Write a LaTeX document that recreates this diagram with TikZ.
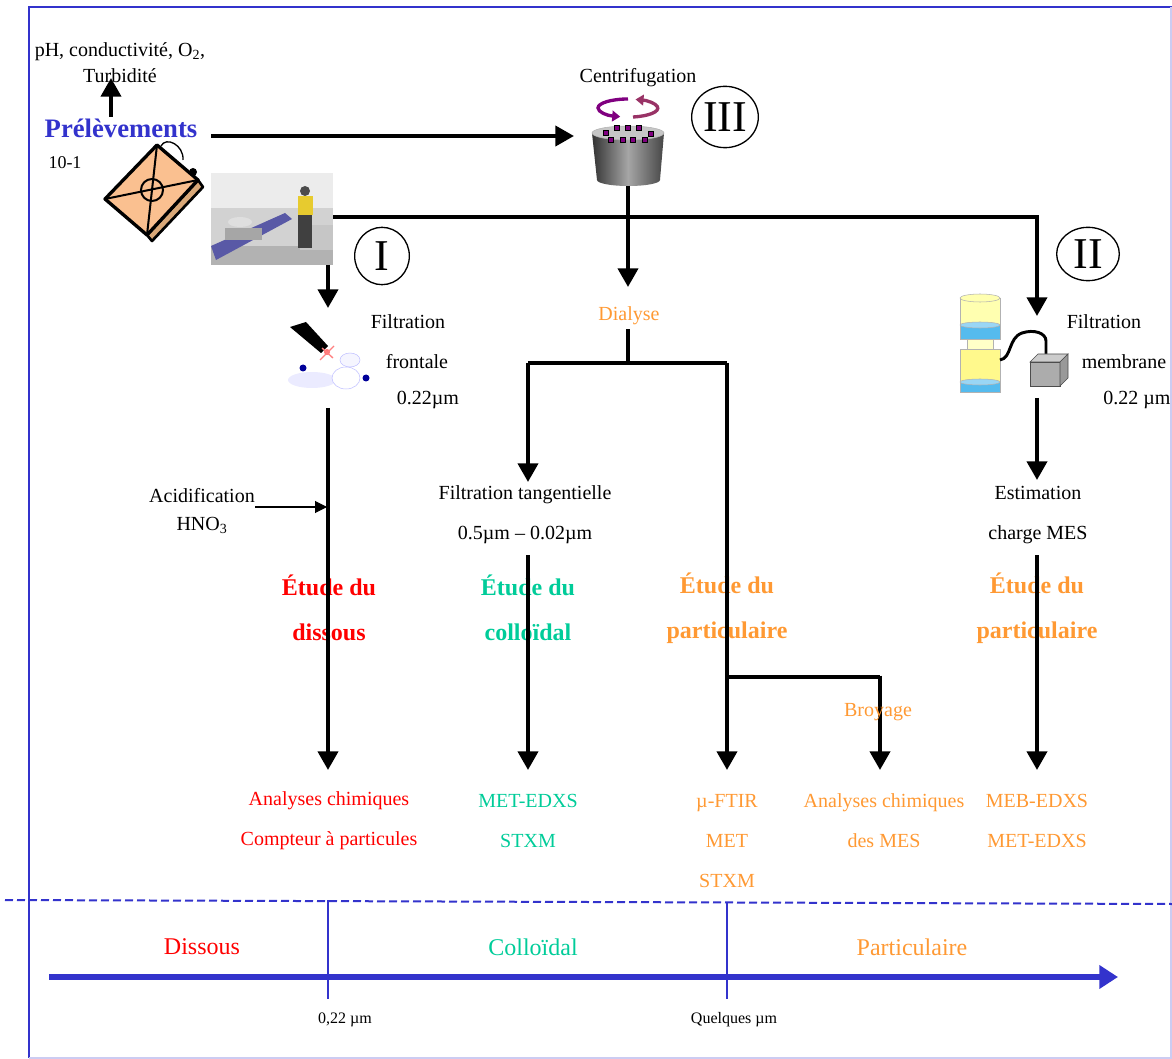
\documentclass[tikz,border=0pt]{standalone}
\usepackage{fontspec}
\setmainfont{Liberation Serif}
\usetikzlibrary{arrows.meta,positioning,shapes.geometric}

\definecolor{axisblue}{HTML}{3333CC}
\definecolor{dissred}{HTML}{FF0000}
\definecolor{collgreen}{HTML}{00CC99}
\definecolor{partorange}{HTML}{FF9933}
\definecolor{canpeach}{HTML}{FAC090}
\definecolor{canside}{HTML}{D9A878}
\definecolor{rotpurple}{HTML}{800080}
\definecolor{rotpink}{HTML}{993366}
\definecolor{paleyellow}{HTML}{FFFFB0}
\definecolor{filterblue}{HTML}{55BBEE}

\begin{document}
\begin{tikzpicture}[x=0.75pt,y=-0.75pt,>={Triangle[width=15pt,length=14pt]},
    flow/.style={->,line width=3pt},
    link/.style={line width=3pt},
    txt/.style={inner sep=0pt,font=\fontsize{15}{30}\selectfont,align=center},
    etude/.style={inner sep=0pt,font=\bfseries\fontsize{18}{34}\selectfont,align=center},
    roman node/.style={ellipse,draw,line width=1pt,inner sep=0pt,font=\fontsize{33}{33}\selectfont},
    scale node/.style={inner sep=0pt,font=\fontsize{18}{20}\selectfont},
    size node/.style={inner sep=0pt,font=\fontsize{12}{14}\selectfont}]
\useasboundingbox (0,0) rectangle (1172,1059);

% frame
\draw[axisblue,line width=1.5pt] (29,1058) -- (29,7) -- (1172,7);
\draw[axisblue!25,line width=1.5pt] (1171,7) -- (1171,1058) -- (29,1058);

% sampling
\node[txt,font=\fontsize{15}{19.5}\selectfont] (param) at (120,63) {pH, conductivité, O\textsubscript{2},\\Turbidité};
\node[inner sep=0pt,font=\bfseries\fontsize{20}{22}\selectfont,text=axisblue] (prel) at (121,128) {Prélèvements};
\node[inner sep=0pt,font=\fontsize{13.5}{15}\selectfont] (vol) at (65,163) {10-1};
\coordinate (phup) at (111,117);
\draw[flow] (phup) -- (111,78);

% jerrycan
\filldraw[fill=canside,line width=2pt,line join=round] (198,180) -- (203,187) -- (152,241) -- (147,235) -- cycle;
\filldraw[fill=canpeach,line width=2.5pt,line join=round] (157,145) -- (198,180) -- (147,235) -- (105,199) -- cycle;
\draw[line width=1.5pt] (157,145) -- (147,235) (105,199) -- (198,180);
\draw[line width=1.5pt] (152,190) circle (11);
\draw[line width=1.2pt] (162,150) -- (182,167);
\draw[line width=1pt] (161,146) .. controls (166,136) and (184,145) .. (183,160);
\fill (193,172) circle (4);

% photo of the field lab
\node[fill=gray!35,minimum width=91.5pt,minimum height=69pt,inner sep=0pt] (photo) at (272,219) {};
\fill[gray!15] (211,173) rectangle (333,208);
\fill[gray!60] (211,246) rectangle (333,265);
\fill[gray!45] (300,225) rectangle (333,250);
\fill[blue!30!gray] (211,246) -- (285,213) -- (292,219) -- (216,260) -- cycle;
\fill[gray!70] (225,228) rectangle (262,240);
\fill[gray!25] (240,222) ellipse (12 and 5);
\fill[black!75] (298,212) rectangle (312,248);
\fill[yellow!60!brown] (298,196) rectangle (313,215);
\fill[black!70] (305,191) circle (5);
\coordinate (branch2) at (1037,217);
\draw[link] (photo.east |- branch2) -- (branch2);
\coordinate (branch1) at (328,265);

% centrifugation
\node[txt] (centri) at (638,78) {Centrifugation};
\shade[left color=gray!40!black,right color=gray!55!black,middle color=gray!70] (592,133) -- (597,180) arc[start angle=180,end angle=0,x radius=31.5,y radius=6] -- (664,133) -- cycle;
\filldraw[fill=gray!45,draw=gray!60] (628,133) ellipse (36 and 7);
\foreach \px/\py in {617/128,628/128,639/128,606/133,651/134,611/140,623/140,633/140,645/140}
    \filldraw[fill=rotpurple,draw=black,line width=0.6pt] (\px-2.5,\py-2.5) rectangle (\px+2.5,\py+2.5);
\draw[rotpurple,line width=2.5pt,-{Triangle[width=8pt,length=6pt]}] (628,99) arc[start angle=270,end angle=105,x radius=30,y radius=9];
\draw[rotpink,line width=2.5pt,-{Triangle[width=8pt,length=6pt]}] (633,117) arc[start angle=80,end angle=-75,x radius=30,y radius=9];
\coordinate (prelout) at (211,136);
\coordinate (cfin) at (574,136);
\coordinate (cfout) at (628,186);
\draw[flow] (prelout) -- (cfin);

% roman numerals
\node[roman node,minimum width=41pt,minimum height=43pt] (I) at (382,256) {I};
\node[roman node,minimum width=47pt,minimum height=40pt] (II) at (1088,254) {II};
\node[roman node,minimum width=50pt,minimum height=46pt] (III) at (725,117) {III};

% branch I : frontal filtration
\draw[flow] (branch1) -- (328,308);
\fill[blue!8] (312,380) ellipse (24 and 8);
\fill[black] (290,327) -- (306,322) -- (328,346) -- (321,353) -- cycle;
\fill[red!55] (327,352) circle (3);
\draw[red!50,line width=1pt] (320,360) -- (334,346) (322,348) -- (333,358);
\filldraw[draw=blue!25,fill=white] (346,378) ellipse (14 and 11);
\filldraw[draw=blue!25,fill=blue!4] (350,360) ellipse (10 and 7);
\fill[blue!60!black] (303,368) circle (3.5) (366,378) circle (3.5);
\node[txt] (ff1) at (408,322) {Filtration};
\node[txt] (ff2) at (417,362) {frontale};
\node[txt] (ff3) at (428,400) {0.22µm};
\node[txt,font=\fontsize{15}{21}\selectfont] (acid) at (202,511) {Acidification\\HNO\textsubscript{3}};
\coordinate (acidin) at (255,507);
\node[etude,text=dissred] (etdiss) at (329,608) {Étude du\\dissous};
\node[txt,text=dissred] (resdiss) at (329,821) {Analyses chimiques\\Compteur à particules};
\draw[flow] (328,408) -- (328,770);
\draw[-{Triangle[width=9pt,length=9pt]},line width=0.8pt] (acidin) -- (327,507);

% branch III : dialysis
\draw[flow] (cfout) -- (628,287);
\node[txt,text=partorange] (dial) at (629,316) {Dialyse};
\coordinate (split) at (628,363);
\draw[link] (split |- dial.south) ++(0,4) -- (split);
\draw[link] (528,363) -- (727,363);
\draw[flow] (528,363) -- (528,482);
\node[txt] (tang) at (525,515) {Filtration tangentielle\\0.5µm -- 0.02µm};
\node[etude,text=collgreen] (etcoll) at (528,608) {Étude du\\colloïdal};
\node[txt,text=collgreen] (rescoll) at (528,821) {MET-EDXS\\STXM};
\draw[flow] (528,555) -- (528,770);
\node[etude,text=partorange] (etpart) at (727,608) {Étude du\\particulaire};
\node[txt,text=partorange] (respart) at (727,841) {µ-FTIR\\MET\\STXM};
\draw[flow] (727,363) -- (727,770);
\coordinate (broy) at (727,677);
\draw[link] (broy) -- (880,677);
\draw[flow] (880,675.5) -- (880,770);
\node[txt,text=partorange] (broylab) at (878,712) {Broyage};
\node[txt,text=partorange] (resbroy) at (884,821) {Analyses chimiques\\des MES};

% branch II : membrane filtration
\draw[flow] (branch2) ++(0,-1.5) -- (1037,316);
\filldraw[fill=paleyellow,draw=gray!60] (960,298) rectangle (1000,325);
\filldraw[fill=paleyellow,draw=gray!60] (980,298) ellipse (20 and 4);
\filldraw[fill=filterblue,draw=gray!60] (960,325) rectangle (1000,339);
\filldraw[fill=filterblue!60,draw=gray!60] (980,325) ellipse (20 and 3);
\filldraw[fill=paleyellow!70,draw=gray!60] (967,339) rectangle (993,349);
\filldraw[fill=yellow!45,draw=gray!60] (960,349) rectangle (1000,382);
\filldraw[fill=filterblue,draw=gray!60] (960,382) rectangle (1000,392);
\filldraw[fill=filterblue!60,draw=gray!60] (980,382) ellipse (20 and 3);
\draw[line width=2.2pt] (1000,360) .. controls (1012,358) and (1008,338) .. (1022,333) .. controls (1034,329) and (1046,333) .. (1046,341) -- (1046,356);
\filldraw[fill=gray!65,draw=black!70] (1030,362) rectangle (1060,386);
\filldraw[fill=gray!40,draw=black!70] (1030,362) -- (1038,354) -- (1068,354) -- (1060,362) -- cycle;
\filldraw[fill=gray!80,draw=black!70] (1060,362) -- (1068,354) -- (1068,378) -- (1060,386) -- cycle;
\node[txt] (fm1) at (1104,322) {Filtration};
\node[txt] (fm2) at (1124,362) {membrane};
\node[txt] (fm3) at (1137,400) {0.22 µm};
\draw[flow] (1037,398) -- (1037,480);
\node[txt] (mes) at (1038,515) {Estimation\\charge MES};
\node[etude,text=partorange] (etmes) at (1037,608) {Étude du\\particulaire};
\node[txt,text=partorange] (resmes) at (1037,821) {MEB-EDXS\\MET-EDXS};
\draw[flow] (1037,555) -- (1037,770);

% size scale
\draw[axisblue,line width=1.5pt,dash pattern=on 6pt off 3pt] (5,900) -- (1172,904);
\coordinate (cut1) at (328,900);
\coordinate (cut2) at (727,903);
\draw[axisblue,line width=1.5pt] (cut1) -- (328,999) (cut2) -- (727,999);
\draw[axisblue,line width=4pt,-{Triangle[width=17pt,length=14pt]}] (49,977) -- (1118,977);
\node[scale node,text=dissred] (sdiss) at (202,947) {Dissous};
\node[scale node,text=collgreen] (scoll) at (533,947) {Colloïdal};
\node[scale node,text=partorange] (spart) at (912,947) {Particulaire};
\node[size node] (s1) at (345,1020) {0,22 µm};
\node[size node] (s2) at (734,1020) {Quelques µm};
\end{tikzpicture}
\end{document}
